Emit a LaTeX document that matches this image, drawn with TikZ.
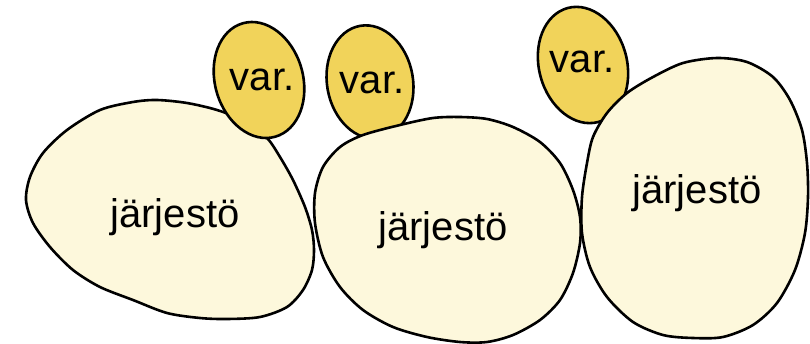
\documentclass[tikz,border=0pt]{standalone}
\usepackage{fontspec}
\setmainfont{Liberation Sans}
\definecolor{bigfill}{HTML}{FDF8DC}
\definecolor{smallfill}{HTML}{F1D35A}
\begin{document}
\begin{tikzpicture}[x=1pt,y=-1pt,
  bigblob/.style={draw=black,line width=2.6pt,fill=bigfill},
  smallblob/.style={draw=black,line width=2.6pt,fill=smallfill},
  lbl/.style={font=\fontsize{40}{48}\selectfont,anchor=base,inner sep=0pt}]
\useasboundingbox (0,0) rectangle (810,343);
% left organisation
\draw[bigblob] plot[smooth cycle,tension=0.5] coordinates {(26,200) (30,177) (43,153) (67,130) (100,110) (133,102) (157,100) (187,103) (217,110) (245,121) (267,138) (280,157) (293,180) (305,207) (312,230) (314,250) (312,270) (303,290) (287,307) (260,317) (227,319) (200,318) (167,313) (133,300) (100,287) (73,270) (50,247) (33,223)};
\draw[smallblob,rotate around={16:(259,80)}] (259,80) ellipse (44 and 59);
% middle
\draw[smallblob,rotate around={10:(370,82)}] (370,82) ellipse (43 and 57);
\draw[bigblob] plot[smooth cycle,tension=0.5] coordinates {(363,135) (400,125) (433,118) (460,117) (487,119) (513,127) (540,142) (560,163) (573,190) (580,217) (580,243) (573,273) (560,300) (540,320) (513,335) (487,342) (460,342) (427,337) (393,327) (363,310) (340,287) (323,257) (315,223) (315,193) (323,167) (340,147)};
% right
\draw[smallblob,rotate around={15:(583,65)}] (583,65) ellipse (44 and 59);
\draw[bigblob] plot[smooth cycle,tension=0.5] coordinates {(717,58) (747,62) (773,77) (790,100) (802,130) (807,163) (808,197) (805,233) (795,270) (777,303) (753,325) (723,337) (693,338) (663,335) (633,322) (607,297) (590,267) (582,233) (582,197) (587,163) (593,137) (607,113) (627,93) (653,77) (683,63)};
% labels
\node[lbl] (j1) at (175,227) {järjestö};
\node[lbl] (j2) at (443,240) {järjestö};
\node[lbl] (j3) at (697,203) {järjestö};
\node[lbl] (v1) at (262,90) {var.};
\node[lbl] (v2) at (372,93) {var.};
\node[lbl] (v3) at (582,72) {var.};
\end{tikzpicture}
\end{document}
